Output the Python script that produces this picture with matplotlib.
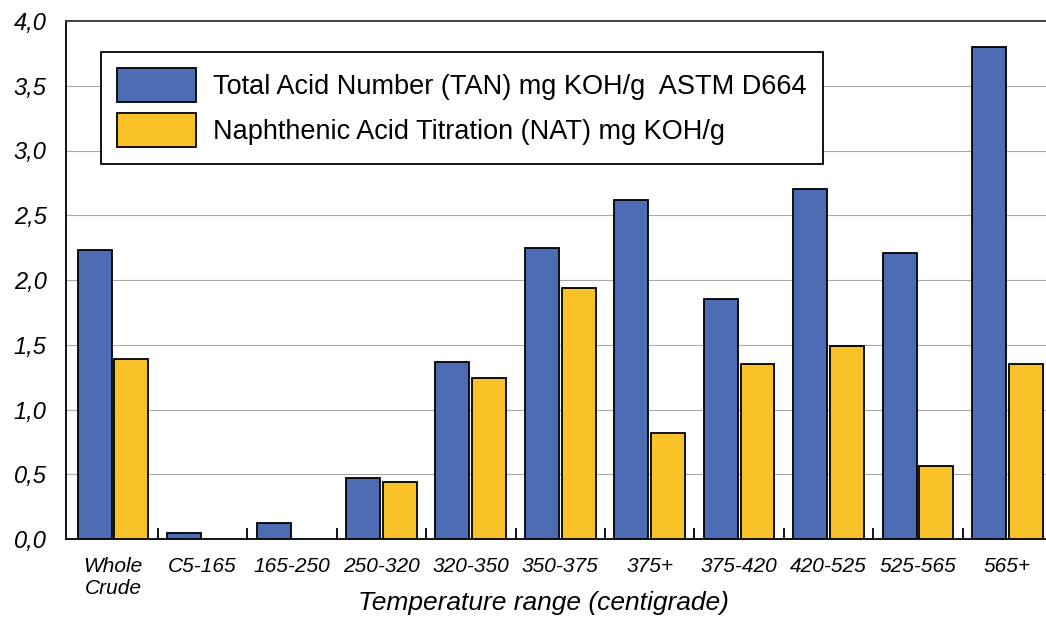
import numpy as np
import matplotlib
matplotlib.use("Agg")
import matplotlib.pyplot as plt
from matplotlib.ticker import FixedLocator

plt.rcParams['font.family'] = ['Liberation Sans', 'DejaVu Sans']

# Данные: фракции и кислотные числа
categories = ['Whole\nCrude', 'C5-165', '165-250', '250-320', '320-350', '350-375',
              '375+', '375-420', '420-525', '525-565', '565+']
tan_values = [2.23, 0.05, 0.12, 0.47, 1.37, 2.25, 2.62, 1.85, 2.70, 2.21, 3.80]
nat_values = [1.39, 0.0, 0.0, 0.44, 1.24, 1.94, 0.82, 1.35, 1.49, 0.56, 1.35]
y_ticks = [0.0, 0.5, 1.0, 1.5, 2.0, 2.5, 3.0, 3.5, 4.0]
y_tick_labels = ['0,0', '0,5', '1,0', '1,5', '2,0', '2,5', '3,0', '3,5', '4,0']
tan_label = 'Total Acid Number (TAN) mg KOH/g  ASTM D664'
nat_label = 'Naphthenic Acid Titration (NAT) mg KOH/g'

blue = '#4c6db3'
yellow = '#f8c228'

fig = plt.figure(figsize=(10.46, 6.18), dpi=100)
ax = fig.add_axes([66 / 1046, 79 / 618, 980 / 1046, 518 / 618])

x = np.arange(len(categories))
w = 0.38
ax.bar(x - w / 2 - 0.015, tan_values, w, color=blue, edgecolor='black',
       linewidth=1.3, label=tan_label, zorder=3)
nat_x = [xi + w / 2 + 0.015 for xi, v in zip(x, nat_values) if v > 0]
nat_h = [v for v in nat_values if v > 0]
ax.bar(nat_x, nat_h, w, color=yellow, edgecolor='black',
       linewidth=1.3, label=nat_label, zorder=3)

ax.set_xlim(-0.525, 10.43)
ax.set_ylim(0, 4.0)

# Сетка по Y
ax.set_yticks(y_ticks)
ax.set_yticklabels(y_tick_labels, fontsize=17, style='italic')
ax.tick_params(axis='y', length=0, pad=14)
for yv in y_ticks[1:-1]:
    ax.axhline(yv, color='#a8a8a8', linewidth=0.8, zorder=1)

# Подписи категорий по центрам, засечки на границах групп
ax.set_xticks(x)
ax.set_xticklabels(categories, fontsize=15, style='italic', linespacing=1.2)
ax.tick_params(axis='x', which='major', length=0, pad=13)
ax.xaxis.set_minor_locator(FixedLocator(x[:-1] + 0.5))
ax.tick_params(axis='x', which='minor', direction='in', length=8, width=1.3, color='black')

# Подпись оси X ставим вручную у нижнего края
fig.text(0.5 * (66 + 1046) / 1046 - 0.012, 1 - 610 / 618, 'Temperature range (centigrade)',
         fontsize=19, style='italic', ha='center', va='baseline')

ax.spines['right'].set_visible(False)
ax.spines['left'].set_linewidth(1.3)
ax.spines['bottom'].set_linewidth(1.3)
ax.spines['top'].set_linewidth(1.3)
ax.spines['top'].set_color('#333333')

leg = ax.legend(loc='upper left', bbox_to_anchor=(101 / 1046, 1 - 52 / 618),
                bbox_transform=fig.transFigure, fontsize=19.5, frameon=True,
                fancybox=False, edgecolor='black', framealpha=1,
                handlelength=2.9, handleheight=1.56, handletextpad=0.65,
                labelspacing=0.4, borderpad=0.6, borderaxespad=0)
leg.get_frame().set_linewidth(1.3)
leg.set_zorder(5)

fig.savefig('out.png', dpi=100)
